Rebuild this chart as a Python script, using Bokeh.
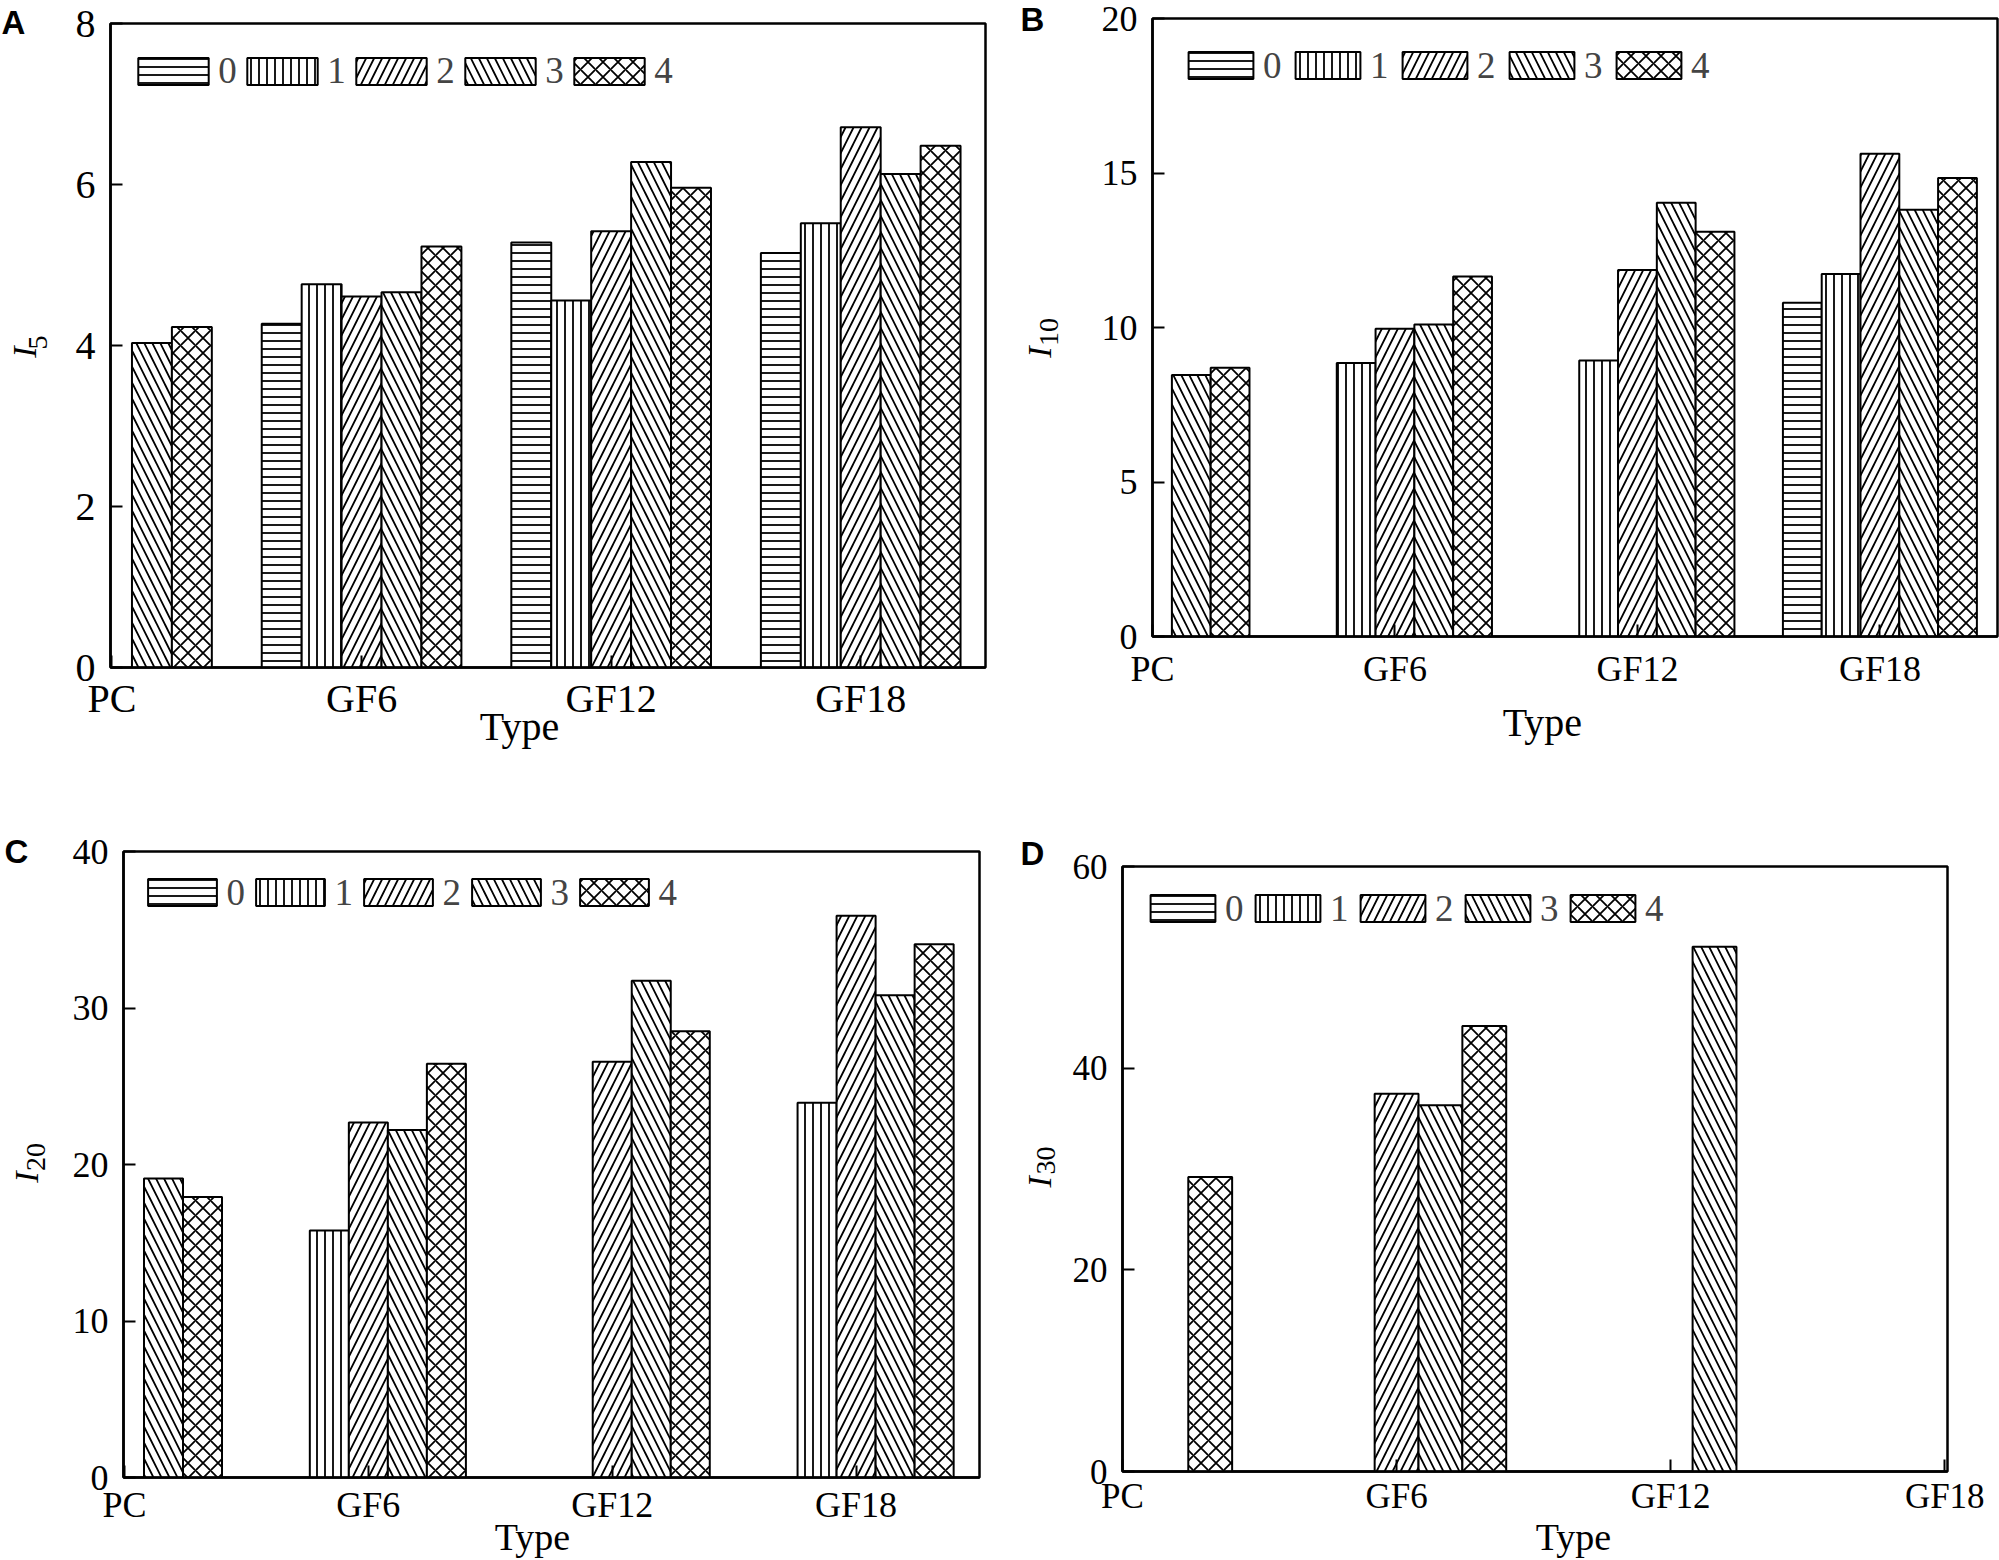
import numpy as np
from bokeh.plotting import figure
from bokeh.models import (Range1d, FixedTicker, Legend, LegendItem, ColumnDataSource,
                          LinearAxis, Title)
from bokeh.layouts import row, column
from bokeh.embed import file_html
from bokeh.resources import INLINE

nan = np.nan

# ---------------- data ----------------
types = ["PC", "GF6", "GF12", "GF18"]
series_labels = ["0", "1", "2", "3", "4"]

# Panel A : I5
i5_s0 = [nan, 4.27, 5.28, 5.15]
i5_s1 = [nan, 4.76, 4.56, 5.52]
i5_s2 = [nan, 4.61, 5.42, 6.71]
i5_s3 = [4.03, 4.66, 6.28, 6.13]
i5_s4 = [4.23, 5.23, 5.96, 6.48]
i5_ticks = [0, 2, 4, 6, 8]

# Panel B : I10
i10_s0 = [nan, nan, nan, 10.80]
i10_s1 = [nan, 8.85, 8.93, 11.73]
i10_s2 = [nan, 9.96, 11.86, 15.62]
i10_s3 = [8.46, 10.10, 14.04, 13.81]
i10_s4 = [8.70, 11.65, 13.10, 14.84]
i10_ticks = [0, 5, 10, 15, 20]

# Panel C : I20
i20_s0 = [nan, nan, nan, nan]
i20_s1 = [nan, 15.79, nan, 23.95]
i20_s2 = [nan, 22.68, 26.57, 35.89]
i20_s3 = [19.11, 22.20, 31.74, 30.81]
i20_s4 = [17.93, 26.44, 28.52, 34.07]
i20_ticks = [0, 10, 20, 30, 40]

# Panel D : I30
i30_s0 = [nan, nan, nan, nan]
i30_s1 = [nan, nan, nan, nan]
i30_s2 = [nan, 37.47, nan, nan]
i30_s3 = [nan, 36.33, 52.05, nan]
i30_s4 = [29.21, 44.19, nan, nan]
i30_ticks = [0, 20, 40, 60]

hatches = ["horizontal_line", "vertical_line", "right_diagonal_line",
           "left_diagonal_line", "diagonal_cross"]
hatch_scales = [8, 8, 16, 16, 15]

FONT = "Liberation Serif"
BAR_W = 0.16
LEG_FONT = 37
LEG_ITEM_H = 41   # height of one legend row (label text height)

# layout (page pixels): frame = (left, right, top, bottom)
# legend = (box left offset from frame, box centre y, drawn box width, item pitch)
panels = [
    dict(name="A", sub="5", vals=[i5_s0, i5_s1, i5_s2, i5_s3, i5_s4], ticks=i5_ticks,
         x0=0, y0=0, w=1013, h=780, frame=(110, 985, 23, 667), xr=(-0.006, 3.5),
         font=40, tick_standoff=8, legend=(28, 71.5, 70, 106),
         letter=(-109, -35.4), ylab=(351.5, 342, 25, -17), type_lab=(519, -20, 40)),
    dict(name="B", sub="10", vals=[i10_s0, i10_s1, i10_s2, i10_s3, i10_s4], ticks=i10_ticks,
         x0=1013, y0=0, w=986, h=780, frame=(1152, 1997, 18, 636), xr=(0.0, 3.485),
         font=36, tick_standoff=12, legend=(36, 66, 65, 107),
         letter=(-132, -38.4), ylab=(351.5, 331.5, 40, -21), type_lab=(1542, 8, 40)),
    dict(name="C", sub="20", vals=[i20_s0, i20_s1, i20_s2, i20_s3, i20_s4], ticks=i20_ticks,
         x0=0, y0=780, w=1013, h=780, frame=(123, 979, 851, 1477), xr=(-0.004, 3.506),
         font=36, tick_standoff=7, legend=(25, 893.4, 69, 108),
         letter=(-119, -37.4), ylab=(1176.5, 1156.5, 24, -21), type_lab=(532, -12, 38)),
    dict(name="D", sub="30", vals=[i30_s0, i30_s1, i30_s2, i30_s3, i30_s4], ticks=i30_ticks,
         x0=1013, y0=780, w=986, h=780, frame=(1122, 1947, 866, 1471), xr=(0.0, 3.01),
         font=35, tick_standoff=5, legend=(28, 909, 65, 105),
         letter=(-102, -11.4), ylab=(1181.3, 1160, 14, -24), type_lab=(1573, -3, 38)),
]


def text_axis(p, side, value, text, size, standoff, orientation, style="normal", font=FONT):
    """An axis that only carries one text, placed at a data position along the side."""
    ax = LinearAxis(ticker=FixedTicker(ticks=[value]), major_label_overrides={value: text},
                    axis_line_color=None, major_tick_line_color=None, minor_tick_line_color=None,
                    major_tick_in=0, major_tick_out=0, minor_tick_in=0, minor_tick_out=0,
                    major_label_standoff=standoff, major_label_orientation=orientation,
                    major_label_text_font=font, major_label_text_font_size=f"{size}px",
                    major_label_text_font_style=style, major_label_text_color="black")
    p.add_layout(ax, side)


def build(cfg):
    fl, fr, ft, fb = cfg["frame"]
    x0, y0, w, h = cfg["x0"], cfg["y0"], cfg["w"], cfg["h"]
    left, right = fl - x0, x0 + w - fr
    top, bottom = ft - y0, y0 + h - fb
    ticks = cfg["ticks"]
    xr0, xr1 = cfg["xr"]
    p = figure(width=w, height=h, title=None,
               min_border_left=left, min_border_right=right,
               min_border_top=top, min_border_bottom=bottom,
               x_range=Range1d(xr0, xr1), y_range=Range1d(ticks[0], ticks[-1]),
               output_backend="svg", toolbar_location=None)
    p.frame_align = False
    p.background_fill_color = "white"
    p.border_fill_color = "white"
    p.outline_line_color = "black"
    p.outline_line_width = 2.5
    p.xgrid.visible = False
    p.ygrid.visible = False

    for ax in (p.xaxis[0], p.yaxis[0]):
        ax.axis_line_width = 2.5
        ax.axis_line_color = "black"
        ax.major_tick_in = 12
        ax.major_tick_out = 0
        ax.major_tick_line_width = 2
        ax.minor_tick_line_color = None
        ax.major_label_text_font = FONT
        ax.major_label_text_font_size = f"{cfg['font']}px"
        ax.major_label_text_color = "black"
    p.xaxis.ticker = FixedTicker(ticks=list(range(len(types))))
    p.xaxis.major_label_overrides = {i: t for i, t in enumerate(types)}
    p.xaxis.major_label_standoff = cfg["tick_standoff"]
    p.yaxis.ticker = FixedTicker(ticks=ticks)
    p.yaxis.major_label_standoff = 15

    xs = np.arange(len(types), dtype=float)
    rends = []
    for k, vals in enumerate(cfg["vals"]):
        src = ColumnDataSource(dict(x=xs + (k - 2) * BAR_W, top=np.array(vals, dtype=float)))
        r = p.vbar(x="x", top="top", width=BAR_W, source=src, fill_color="white",
                   line_color="black", line_width=2, hatch_pattern=hatches[k],
                   hatch_color="black", hatch_scale=hatch_scales[k], hatch_weight=1.8)
        rends.append(r)

    # legend: bokeh draws area glyphs at 80% of the glyph box
    bx, bcy, bw, pitch = cfg["legend"]
    gw = bw / 0.8
    gh = 27 / 0.8
    inset = 0.1 * gw
    standoff = max(0, int(round(10 - inset)))
    spacing = int(round(pitch - gw - standoff - 20))
    vy = fb - (bcy + LEG_ITEM_H / 2)
    legend = Legend(items=[LegendItem(label=series_labels[k], renderers=[rends[k]]) for k in range(5)],
                    orientation="horizontal", location=(bx - inset, vy),
                    glyph_width=int(round(gw)), glyph_height=int(round(gh)),
                    label_standoff=standoff, spacing=spacing,
                    padding=0, margin=0, border_line_color=None, background_fill_alpha=0,
                    label_text_font=FONT, label_text_font_size=f"{LEG_FONT}px", label_width=20,
                    label_height=27)
    p.add_layout(legend)

    # y label "I" with subscript (two text-only axes stacked outside the tick labels)
    def ydata(Y):
        return round(ticks[0] + (fb - Y) * (ticks[-1] - ticks[0]) / (fb - ft), 3)

    yI, ysub, s_sub, s_I = cfg["ylab"]
    text_axis(p, "left", ydata(ysub), cfg["sub"], 28, s_sub, "parallel")
    text_axis(p, "left", ydata(yI), "I", 34, s_I, "parallel", style="italic")

    # x label "Type"
    xt, s_t, tsize = cfg["type_lab"]
    xdat = round(xr0 + (xt - fl) * (xr1 - xr0) / (fr - fl), 3)
    text_axis(p, "below", xdat, "Type", tsize, s_t, "horizontal")

    # panel letter
    off, st = cfg["letter"]
    p.add_layout(Title(text=cfg["name"], align="left", offset=off, standoff=st,
                       vertical_align="bottom", text_font="Liberation Sans",
                       text_font_size="33px", text_font_style="bold", text_color="black"),
                 "above")
    return p


figs = [build(c) for c in panels]
layout = column(row(figs[0], figs[1], spacing=0), row(figs[2], figs[3], spacing=0), spacing=0)
open("out.html", "w").write(file_html(layout, INLINE))
